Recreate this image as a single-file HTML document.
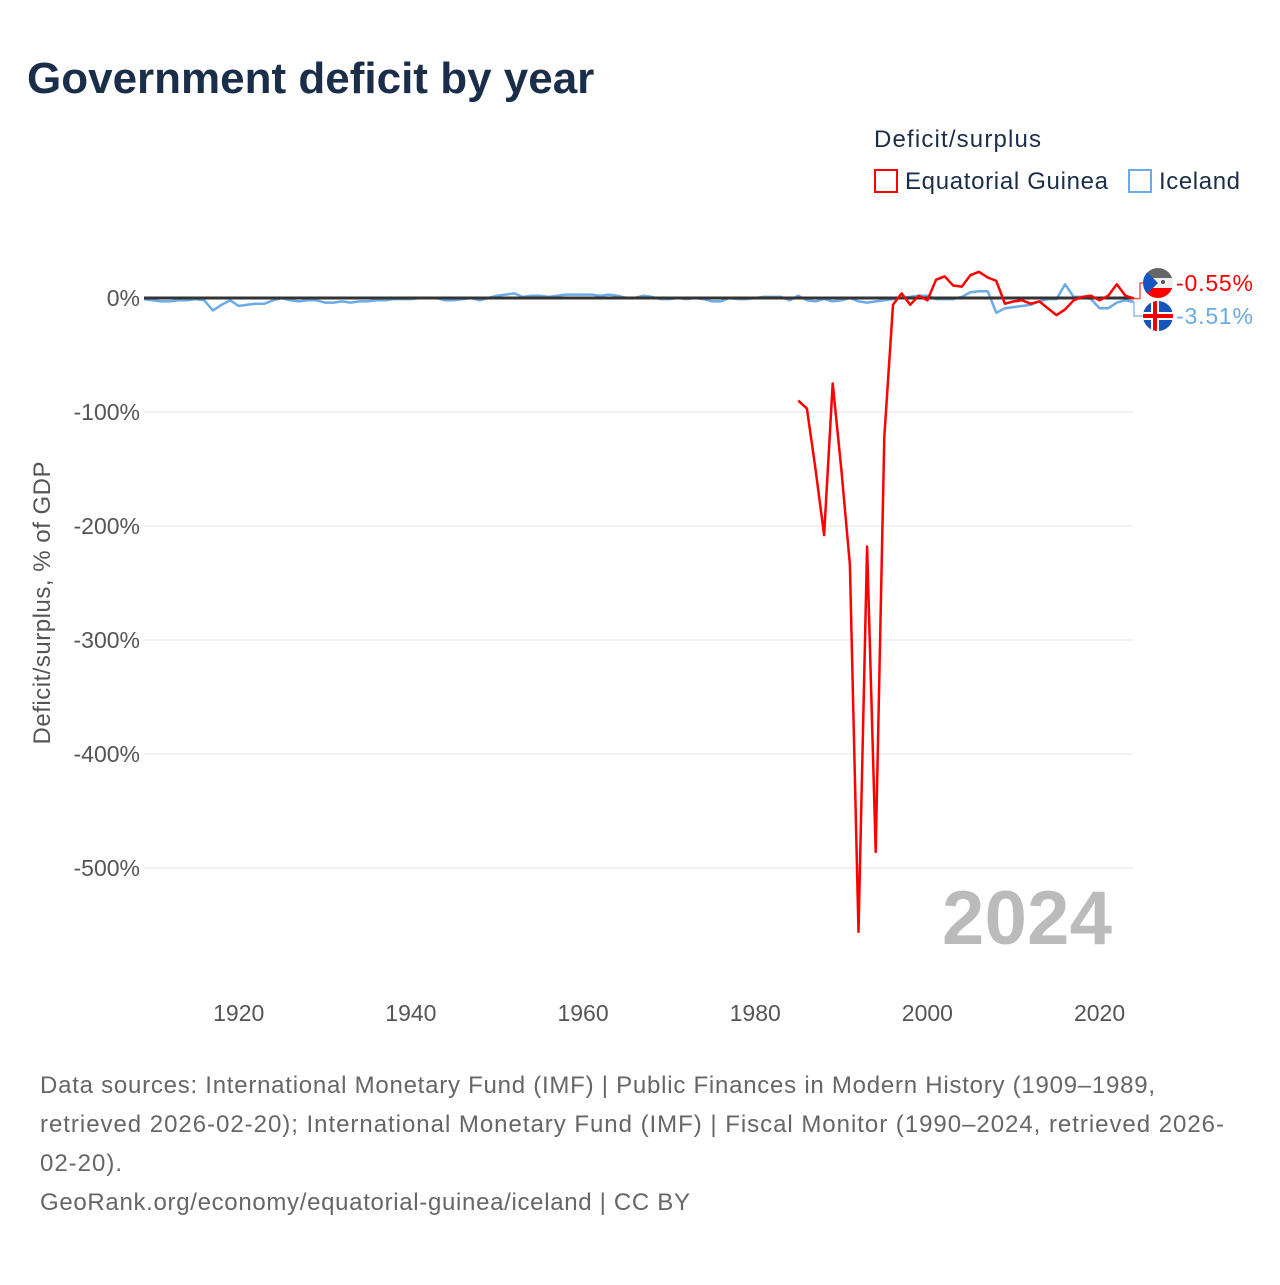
<!DOCTYPE html>
<html><head><meta charset="utf-8"><style>
body{margin:0;background:#fff;width:1280px;height:1280px;overflow:hidden;font-family:"Liberation Sans",sans-serif}
</style></head><body>
<svg id="c" width="1280" height="1280" xmlns="http://www.w3.org/2000/svg" style="font-family:'Liberation Sans',sans-serif">
<text x="27" y="93" font-size="44" font-weight="bold" fill="#1a2e4a">Government deficit by year</text>
<text x="874" y="147" font-size="24" fill="#1a2e4a" textLength="167">Deficit/surplus</text>
<g><rect x="875" y="170" width="22" height="22" fill="none" stroke="#f00" stroke-width="2"/><text x="905" y="189" font-size="24" fill="#1a2e4a" textLength="203">Equatorial Guinea</text></g>
<g><rect x="1129" y="170" width="22" height="22" fill="none" stroke="#6aabe8" stroke-width="2"/><text x="1159" y="189" font-size="24" fill="#1a2e4a" textLength="81">Iceland</text></g>
<text transform="translate(50,603) rotate(-90)" text-anchor="middle" font-size="24" fill="#555" textLength="283">Deficit/surplus, % of GDP</text>
<text x="1112" y="944" text-anchor="end" font-size="76" font-weight="bold" fill="#bbb" textLength="170">2024</text>
<g id="grid"></g><g id="marks"></g>
<g font-size="24" fill="#666">
<text x="40" y="1093" textLength="1115">Data sources: International Monetary Fund (IMF) | Public Finances in Modern History (1909–1989,</text>
<text x="40" y="1132" textLength="1184">retrieved 2026-02-20); International Monetary Fund (IMF) | Fiscal Monitor (1990–2024, retrieved 2026-</text>
<text x="40" y="1171" textLength="82">02-20).</text>
<text x="40" y="1210" textLength="650">GeoRank.org/economy/equatorial-guinea/iceland | CC BY</text>
</g>
</svg>
<script>
const yTicks=[0,-100,-200,-300,-400,-500];
const xTicks=[1920,1940,1960,1980,2000,2020];
const iceStart=1909;
const iceVals=[-1,-2,-3,-3,-2,-2,-1,-2,-11,-6,-2,-7,-6,-5,-5,-2,0,-2,-3,-2,-2,-4,-4,-3,-4,-3,-3,-2,-2,-1,-1,-1,0,0,0,-2,-2,-1,0,-2,0,2,3,4,1,2,2,1,2,3,3,3,3,2,3,2,0,0,2,1,-1,-1,0,-1,0,-1,-3,-3,0,-1,-1,0,1,1,1,-2,2,-2,-3,-1,-3,-2,0,-3,-4,-3,-2,-1,0,1,2,2,-1,-1,-1,1,5,6,6,-13,-9,-8,-7,-6,-3,-1,-1,12,1,1,-1,-9,-9,-4,-2,-3.51];
const eqStart=1985;
const eqVals=[-90,-97,-150,-208,-75,-150,-234,-556,-218,-486,-122,-6,4,-6,2,-2,16,19,11,10,20,23,18,15,-5,-3,-2,-5,-3,-9,-15,-10,-2,1,2,-2,2,12,2,-0.55];
const X=y=>144+(y-1909)*(1134-144)/(2024-1909);
const Y=v=>298-v*1.14;
const NS='http://www.w3.org/2000/svg';
const grid=document.getElementById('grid'),marks=document.getElementById('marks');
function mk(tag,attrs,parent){const e=document.createElementNS(NS,tag);for(const k in attrs)e.setAttribute(k,attrs[k]);parent.appendChild(e);return e;}
yTicks.forEach(t=>{
 if(t!==0){const l=mk('line',{x1:144,x2:1133,y1:Y(t),y2:Y(t),stroke:'#e6e6e6','stroke-width':1},grid);
 
 }
 const tx=mk('text',{x:140,y:Y(t)+8,'text-anchor':'end','font-size':23,fill:'#555'},grid);
 tx.textContent=t+'%';
 
 
});
xTicks.forEach(t=>{
 const tx=mk('text',{x:X(t),y:1021,'text-anchor':'middle','font-size':23,fill:'#555'},grid);
 tx.textContent=t;
 
 
});
function line(start,vals,color,name){
 const d=vals.map((v,i)=>(i?'L':'M')+X(start+i).toFixed(1)+','+Y(v).toFixed(1)).join('');
 const p=mk('path',{d:d,fill:'none',stroke:color,'stroke-width':2.5,'stroke-linejoin':'round'},marks);
 
 
}
line(iceStart,iceVals,'#6aabe8','iceland-line');
const z=mk('line',{x1:144,x2:1133,y1:Y(0),y2:Y(0),stroke:'#333','stroke-width':3},marks);


line(eqStart,eqVals,'#f00','equatorial-guinea-line');
const lastE=eqVals[eqVals.length-1],lastI=iceVals[iceVals.length-1];
const c1=mk('path',{d:`M${X(2024)},${Y(lastE)} h6 V283 h6`,fill:'none',stroke:'#f55','stroke-width':1.5},marks);


const c2=mk('path',{d:`M${X(2024)},${Y(lastI)} h0 V316 h12`,fill:'none',stroke:'#8bbdec','stroke-width':1.5},marks);


const f1=mk('g',{},marks);


f1.innerHTML='<clipPath id="cp1"><circle cx="1158" cy="283" r="15"/></clipPath><g clip-path="url(#cp1)"><rect x="1143" y="268" width="30" height="10" fill="#666"/><rect x="1143" y="278" width="30" height="10" fill="#eee"/><rect x="1143" y="288" width="30" height="10" fill="#f00"/><polygon points="1143,268 1158,283 1143,298" fill="#1555c0"/><circle cx="1163" cy="282" r="2" fill="#555"/></g>';
const f2=mk('g',{},marks);


f2.innerHTML='<clipPath id="cp2"><circle cx="1158" cy="316" r="15"/></clipPath><g clip-path="url(#cp2)"><rect x="1143" y="301" width="30" height="30" fill="#1555c0"/><rect x="1143" y="312" width="30" height="8" fill="#fff"/><rect x="1151" y="301" width="8" height="30" fill="#fff"/><rect x="1143" y="314" width="30" height="4" fill="#e00"/><rect x="1153" y="301" width="4" height="30" fill="#e00"/></g>';
const l1=mk('text',{x:1176,y:291,'font-size':23,fill:'#f00',textLength:77},marks);
l1.textContent=lastE.toFixed(2)+'%';


const l2=mk('text',{x:1176,y:324,'font-size':23,fill:'#6aabe8',textLength:77},marks);
l2.textContent=lastI.toFixed(2)+'%';


</script>
</body></html>
